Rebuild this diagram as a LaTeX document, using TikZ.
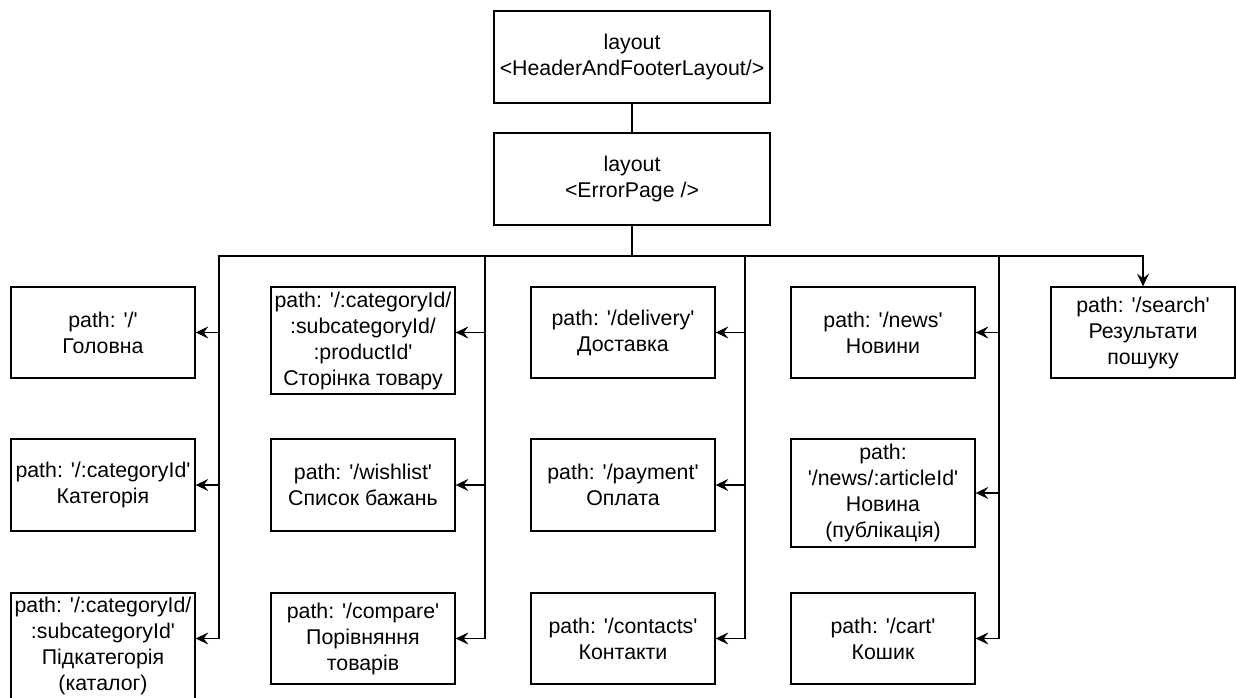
\documentclass[tikz,border=0pt]{standalone}
\usepackage{fontspec}
\setmainfont{Liberation Sans}[Ligatures=TeXOff]
\usetikzlibrary{arrows.meta}
\begin{document}
\begin{tikzpicture}[x=0.75pt,y=-0.75pt,
  box/.style 2 args={draw=black, line width=1pt, inner sep=0pt, align=center,
    minimum width=#1*0.75pt, minimum height=#2*0.75pt,
    font=\fontsize{16pt}{19.5pt}\selectfont},
  link/.style={draw=black, line width=1pt},
  arr/.style={link, -{Stealth[length=9.5pt,width=9pt,inset=3.5pt]}}]
\useasboundingbox (0,0) rectangle (1236,698);

% layout chain
\node[box={276}{92}] (top) at (632,57) {layout\\<HeaderAndFooterLayout/>};
\node[box={276}{92}] (err) at (632,179) {layout\\<ErrorPage />};

% column A
\node[box={184}{91}]    (a1) at (103,332.5)  {path: '/'\\Головна};
\node[box={184}{92}]    (a2) at (103,485)    {path: '/:categoryId'\\Категорія};
\node[box={184}{105.5}] (a3) at (103,645.75) {path: '/:categoryId/\\:subcategoryId'\\Підкатегорія\\(каталог)};

% column B
\node[box={184}{107}] (b1) at (363,340.5) {path: '/:categoryId/\\:subcategoryId/\\:productId'\\Сторінка товару};
\node[box={184}{92}]  (b2) at (363,485)   {path: '/wishlist'\\Список бажань};
\node[box={184}{91}]  (b3) at (363,638.5) {path: '/compare'\\Порівняння\\товарів};

% column C
\node[box={184}{91}] (c1) at (623,332.5) {path: '/delivery'\\Доставка};
\node[box={184}{92}] (c2) at (623,485)   {path: '/payment'\\Оплата};
\node[box={184}{91}] (c3) at (623,638.5) {path: '/contacts'\\Контакти};

% column D
\node[box={184}{91}]  (d1) at (883,332.5) {path: '/news'\\Новини};
\node[box={184}{108}] (d2) at (883,493)   {path:\\'/news/:articleId'\\Новина\\(публікація)};
\node[box={184}{91}]  (d3) at (883,638.5) {path: '/cart'\\Кошик};

% search
\node[box={184}{91}] (s) at (1143,332.5) {path: '/search'\\Результати\\пошуку};

% bus junctions for each column trunk
\coordinate (tA) at (219,256);
\coordinate (tB) at (485,256);
\coordinate (tC) at (745,256);
\coordinate (tD) at (999,256);

\draw[link] (top) -- (err);

\draw[arr] (err.south) |- (tA) |- (a1.east);
\draw[arr] (err.south) |- (tA) |- (a2.east);
\draw[arr] (err.south) |- (tA) |- (a3.east |- b3.east);

\draw[arr] (err.south) |- (tB) |- (b1.east |- a1.east);
\draw[arr] (err.south) |- (tB) |- (b2.east);
\draw[arr] (err.south) |- (tB) |- (b3.east);

\draw[arr] (err.south) |- (tC) |- (c1.east);
\draw[arr] (err.south) |- (tC) |- (c2.east);
\draw[arr] (err.south) |- (tC) |- (c3.east);

\draw[arr] (err.south) |- (tD) |- (d1.east);
\draw[arr] (err.south) |- (tD) |- (d2.east);
\draw[arr] (err.south) |- (tD) |- (d3.east);

\draw[arr] (err.south) |- (tD) -| (s.north);
\end{tikzpicture}
\end{document}
